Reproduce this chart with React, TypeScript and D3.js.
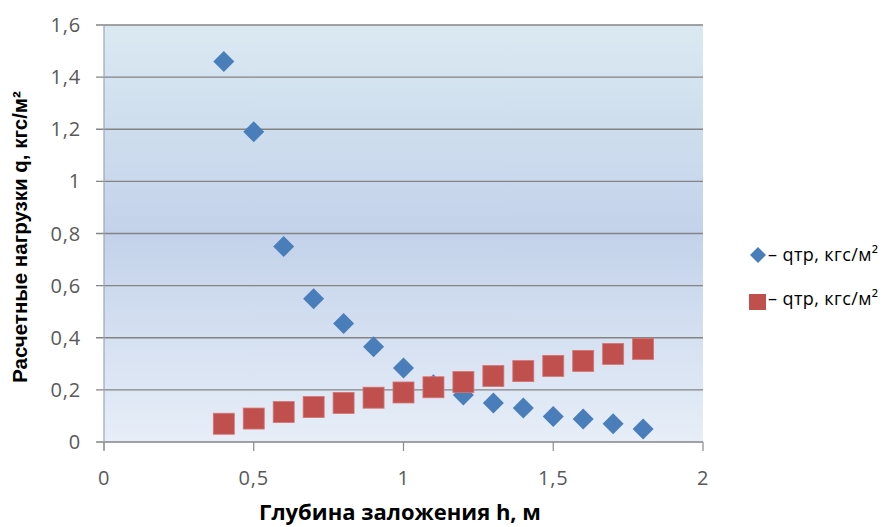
import React from "react";
import * as d3 from "d3";

const depths = [0.4, 0.5, 0.6, 0.7, 0.8, 0.9, 1.0, 1.1, 1.2, 1.3, 1.4, 1.5, 1.6, 1.7, 1.8];
const seriesBlue = [1.46, 1.19, 0.75, 0.55, 0.455, 0.365, 0.284, 0.22, 0.18, 0.15, 0.13, 0.098, 0.088, 0.07, 0.05];
const seriesRed = [0.07, 0.09, 0.115, 0.134, 0.15, 0.17, 0.19, 0.21, 0.23, 0.253, 0.272, 0.292, 0.311, 0.338, 0.357];
const yTicks = [0, 0.2, 0.4, 0.6, 0.8, 1, 1.2, 1.4, 1.6];
const xTicks = [0, 0.5, 1, 1.5, 2];
const legendLabels = ["– qтр, кгс/м²", "– qтр, кгс/м²"];

const fmt = (v: number) => String(v).replace(".", ",");

export default function App() {
  const W = 883, H = 527;
  const x = d3.scaleLinear().domain([0, 2]).range([104, 703]);
  const y = d3.scaleLinear().domain([0, 1.6]).range([442, 25]);
  const font = "'Open Sans', 'Liberation Sans', sans-serif";
  const diamond = (cx: number, cy: number, r: number) =>
    `M${cx},${cy - r}L${cx + r},${cy}L${cx},${cy + r}L${cx - r},${cy}Z`;

  return (
    <svg width={W} height={H} style={{ position: "absolute", left: 0, top: 0 }}>
      <defs>
        <linearGradient id="bg" x1="0" y1="0" x2="0" y2="1">
          <stop offset="0" stopColor="#dae9f1" />
          <stop offset="0.5" stopColor="#c3d2ea" />
          <stop offset="1" stopColor="#e7eef8" />
        </linearGradient>
      </defs>
      <rect x={0} y={0} width={W} height={H} fill="#ffffff" />
      <rect x={x(0)} y={y(1.6)} width={x(2) - x(0)} height={y(0) - y(1.6)} fill="url(#bg)" />
      {yTicks.map((t) => (
        <g key={"y" + t}>
          <line x1={96} x2={x(2)} y1={y(t)} y2={y(t)} stroke="#848484" strokeWidth={1.3} />
          <text x={81} y={y(t)} dy="0.35em" textAnchor="end" fontSize={20} letterSpacing={0.8} fill="#595959" fontFamily={font}>
            {fmt(t)}
          </text>
        </g>
      ))}
      <line x1={x(0)} x2={x(0)} y1={y(1.6)} y2={y(0) + 8} stroke="#9aa6b8" strokeWidth={1.2} />
      {xTicks.map((t) => (
        <g key={"x" + t}>
          <line x1={x(t)} x2={x(t)} y1={y(0)} y2={y(0) + 9} stroke="#8a8a8a" strokeWidth={1.2} />
          <text x={x(t)} y={485} textAnchor="middle" fontSize={20} letterSpacing={0.8} fill="#595959" fontFamily={font}>
            {fmt(t)}
          </text>
        </g>
      ))}
      {depths.map((d, i) => (
        <path key={"b" + i} d={diamond(x(d), y(seriesBlue[i]), 10.5)} fill="#4a7ebb" />
      ))}
      {depths.map((d, i) => (
        <rect key={"r" + i} x={x(d) - 10.5} y={y(seriesRed[i]) - 10.5} width={21} height={21} fill="#c0504d" stroke="#d87470" strokeWidth={0.8} />
      ))}
      <path d={diamond(758, 255, 8)} fill="#4a7ebb" />
      <text x={768} y={255} dy="0.35em" fontSize={18} letterSpacing={0.4} fill="#000" fontFamily={font}>{legendLabels[0]}</text>
      <rect x={749} y={294} width={17} height={16} fill="#c0504d" />
      <text x={768} y={299} dy="0.35em" fontSize={18} letterSpacing={0.4} fill="#000" fontFamily={font}>{legendLabels[1]}</text>
      <text
        transform={`translate(27,${237}) rotate(-90)`}
        textAnchor="middle"
        fontSize={20.5}
        fontWeight="bold"
        fill="#000"
        fontFamily="'Liberation Sans', Arial, sans-serif"
      >
        Расчетные нагрузки q, кгс/м²
      </text>
      <text x={400} y={520} textAnchor="middle" fontSize={22} fontWeight="bold" fill="#000" fontFamily={font}>
        Глубина заложения  h, м
      </text>
    </svg>
  );
}
